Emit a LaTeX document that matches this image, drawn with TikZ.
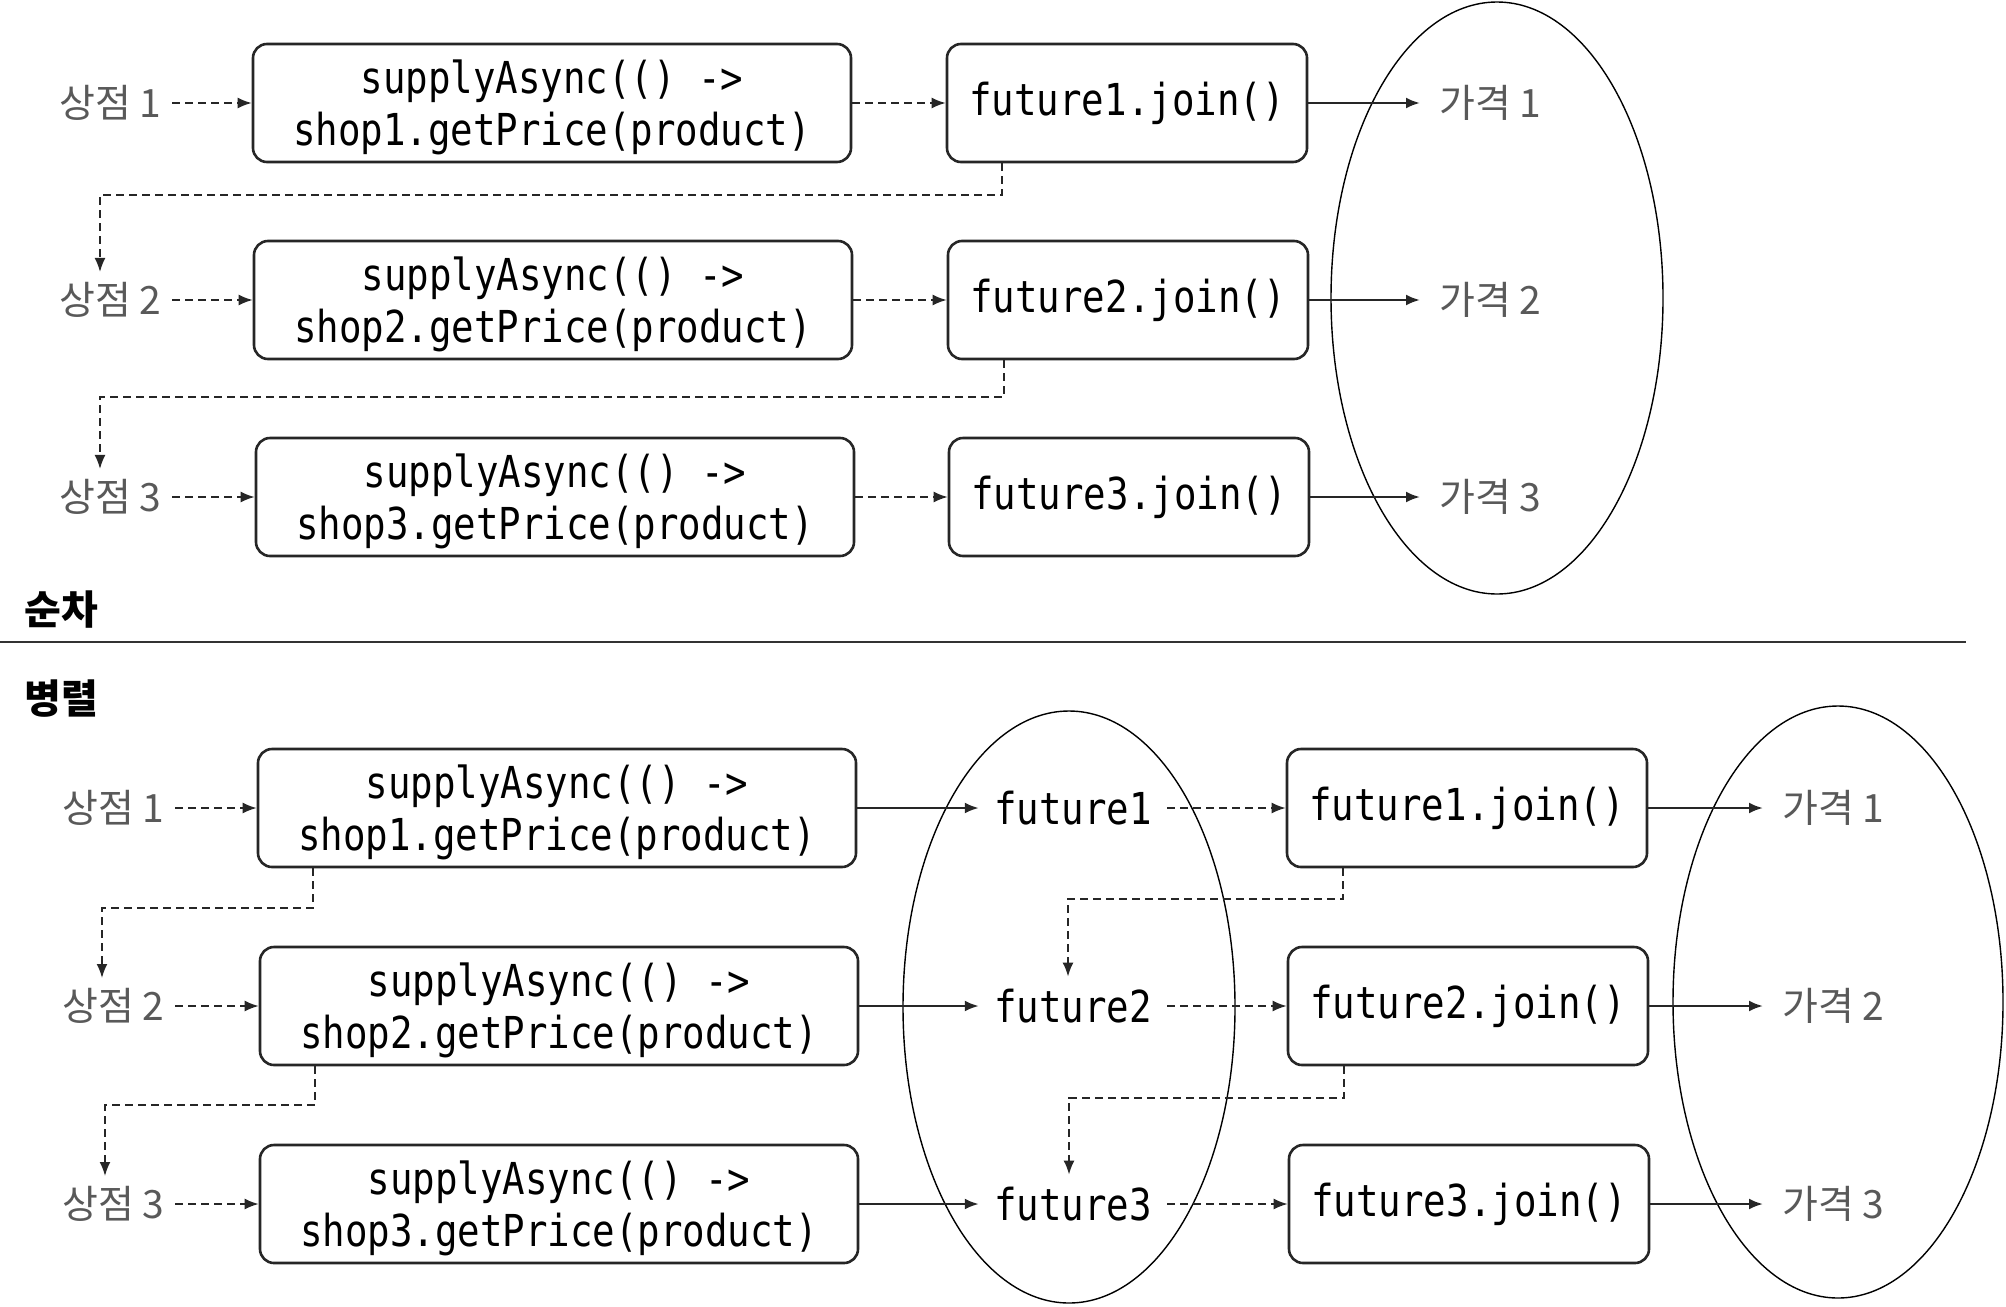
\documentclass[tikz,border=0pt]{standalone}
\usepackage{fontspec}
\setmonofont[FakeStretch=0.85]{DejaVu Sans Mono}
\newfontfamily\kr{Noto Sans CJK KR}
\usetikzlibrary{arrows.meta}
\begin{document}
\begin{tikzpicture}[x=0.5pt,y=-0.5pt,
  codefont/.style={font=\ttfamily\fontsize{22}{26}\selectfont},
  codebox/.style={codefont, draw=black!85, line width=1.3pt, rounded corners=7pt,
    minimum height=59pt, align=center, inner sep=0pt},
  callbox/.style={codebox, minimum width=299pt, text depth=0pt},
  joinbox/.style={codebox, minimum width=180pt},
  shop/.style={font=\kr\fontsize{19.5}{21}\selectfont, text=black!65, anchor=east, inner sep=5pt},
  price/.style={font=\kr\fontsize{19.5}{21}\selectfont, text=black!65, anchor=west, inner sep=9.5pt},
  fut/.style={codefont, inner xsep=7.5pt, inner ysep=6pt},
  head/.style={font=\kr\bfseries\fontsize{20}{22}\selectfont, anchor=west, inner sep=0pt},
  group/.style={draw=black, line width=0.7pt},
  flow/.style={-{Latex[length=7pt,width=5.5pt]}, line width=1.2pt, draw=black!85},
  wait/.style={flow, line width=0.9pt, dash pattern=on 4pt off 2.5pt}
]
\useasboundingbox (0,0) rectangle (2006,1306);

% ---------- sequential ----------
\node[shop] (s1) at (172,103) {상점 1};
\node[shop] (s2) at (172,300) {상점 2};
\node[shop] (s3) at (172,497) {상점 3};

\node[callbox] (b1) at (552,103) {supplyAsync(() ->\\shop1.getPrice(product)};
\node[callbox] (b2) at (553,300) {supplyAsync(() ->\\shop2.getPrice(product)};
\node[callbox] (b3) at (555,497) {supplyAsync(() ->\\shop3.getPrice(product)};

\node[joinbox] (j1) at (1127,103) {future1.join()};
\node[joinbox] (j2) at (1128,300) {future2.join()};
\node[joinbox] (j3) at (1129,497) {future3.join()};

\draw[group] (1497,298) ellipse [x radius=166, y radius=296];

\node[price] (p1) at (1420,103) {가격 1};
\node[price] (p2) at (1420,300) {가격 2};
\node[price] (p3) at (1420,497) {가격 3};

\foreach \i in {1,2,3} {
  \draw[wait] (s\i.east) -- (b\i.west);
  \draw[wait] (b\i.east) -- (j\i.west);
  \draw[flow] (j\i.east) -- (p\i.west);
}

\coordinate (ta) at (1002,195);
\coordinate (tb) at (100,195);
\draw[wait] (j1.south -| ta) -- (ta) -- (tb) -- (s2.north -| tb);
\coordinate (tc) at (1004,397);
\coordinate (td) at (100,397);
\draw[wait] (j2.south -| tc) -- (tc) -- (td) -- (s3.north -| td);

% ---------- headings and divider ----------
\node[head] (h1) at (24,610) {순차};
\draw[line width=1pt, black!80] (0,642) -- (1966,642);
\node[head] (h2) at (24,699) {병렬};

% ---------- parallel ----------
\node[shop] (ss1) at (175,808) {상점 1};
\node[shop] (ss2) at (175,1006) {상점 2};
\node[shop] (ss3) at (175,1204) {상점 3};

\node[callbox] (bb1) at (557,808) {supplyAsync(() ->\\shop1.getPrice(product)};
\node[callbox] (bb2) at (559,1006) {supplyAsync(() ->\\shop2.getPrice(product)};
\node[callbox] (bb3) at (559,1204) {supplyAsync(() ->\\shop3.getPrice(product)};

\draw[group] (1069,1007) ellipse [x radius=166, y radius=296];

\node[fut] (f1) at (1073,808) {future1};
\node[fut] (f2) at (1073,1006) {future2};
\node[fut] (f3) at (1073,1204) {future3};

\node[joinbox] (jj1) at (1467,808) {future1.join()};
\node[joinbox] (jj2) at (1468,1006) {future2.join()};
\node[joinbox] (jj3) at (1469,1204) {future3.join()};

\draw[group] (1838,1002) ellipse [x radius=165, y radius=296];

\node[price] (pp1) at (1763,808) {가격 1};
\node[price] (pp2) at (1763,1006) {가격 2};
\node[price] (pp3) at (1763,1204) {가격 3};

\foreach \i in {1,2,3} {
  \draw[wait] (ss\i.east) -- (bb\i.west);
  \draw[flow] (bb\i.east) -- (f\i.west);
  \draw[wait] (f\i.east) -- (jj\i.west);
  \draw[flow] (jj\i.east) -- (pp\i.west);
}

\coordinate (ua) at (313,908);
\coordinate (ub) at (102,908);
\draw[wait] (bb1.south -| ua) -- (ua) -- (ub) -- (ss2.north -| ub);
\coordinate (uc) at (315,1105);
\coordinate (ud) at (105,1105);
\draw[wait] (bb2.south -| uc) -- (uc) -- (ud) -- (ss3.north -| ud);

\coordinate (va) at (1343,899);
\coordinate (vb) at (1068,899);
\draw[wait] (jj1.south -| va) -- (va) -- (vb) -- (f2.north -| vb);
\coordinate (vc) at (1344,1098);
\coordinate (vd) at (1069,1098);
\draw[wait] (jj2.south -| vc) -- (vc) -- (vd) -- (f3.north -| vd);
\end{tikzpicture}
\end{document}
